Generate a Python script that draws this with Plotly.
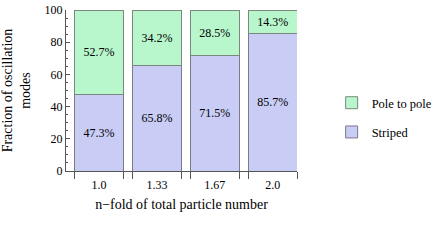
import plotly.graph_objects as go

categories = ["1.0", "1.33", "1.67", "2.0"]
striped = [47.3, 65.8, 71.5, 85.7]
pole_to_pole = [52.7, 34.2, 28.5, 14.3]
y_ticks = [0, 20, 40, 60, 80, 100]

xpos = list(range(len(categories)))
bw = 0.84
edges = []
for p in xpos:
    edges += [p - bw / 2, p + bw / 2]

FONT = "Liberation Serif"
xr = [-0.57, 3.42]

fig = go.Figure()
fig.add_trace(go.Bar(
    x=xpos, y=striped, name="Striped", width=bw,
    marker=dict(color="#c9cdf6", line=dict(color="#7a7a88", width=1)),
    text=[f"{v}%" for v in striped], textposition="inside",
    insidetextanchor="middle", textangle=0,
    textfont=dict(family=FONT, size=12, color="#000"),
    legendgroup="a", legendrank=2,
))
fig.add_trace(go.Bar(
    x=xpos, y=pole_to_pole, name="Pole to pole", width=bw,
    marker=dict(color="#b8f7cc", line=dict(color="#7a887e", width=1)),
    text=[f"{v}%" for v in pole_to_pole], textposition="inside",
    insidetextanchor="middle", textangle=0,
    textfont=dict(family=FONT, size=12, color="#000"),
    legendgroup="b", legendrank=1,
))
# invisible trace to host tick-mark axis at bar edges
fig.add_trace(go.Scatter(x=edges, y=[0] * len(edges), xaxis="x2", mode="markers",
                         marker=dict(opacity=0), showlegend=False, hoverinfo="skip"))

fig.update_layout(
    width=448, height=244,
    margin=dict(l=66, r=116, t=10, b=73),
    barmode="stack",
    paper_bgcolor="white", plot_bgcolor="white",
    font=dict(family=FONT, size=12, color="#000"),
    showlegend=True,
    legend=dict(x=1.15, y=0.515, xanchor="left", yanchor="top",
                traceorder="grouped", tracegroupgap=10,
                borderwidth=0, bgcolor="rgba(0,0,0,0)",
                font=dict(family=FONT, size=12.5), itemwidth=30),
    xaxis=dict(range=xr, tickvals=xpos, ticktext=categories, ticks="",
               showline=True, linecolor="#555", linewidth=1, showgrid=False,
               zeroline=False, tickfont=dict(size=12), ticklabelstandoff=3,
               automargin=False,
               title=dict(text="n\u2212fold of total particle number",
                          font=dict(size=14), standoff=7)),
    xaxis2=dict(range=xr, overlaying="x", anchor="y", side="bottom",
                tickvals=edges, ticks="outside", ticklen=7, tickcolor="#555",
                showticklabels=False, showgrid=False, zeroline=False,
                showline=False, automargin=False),
    yaxis=dict(range=[0, 100], tickvals=y_ticks, ticks="inside", ticklen=4,
               tickcolor="#555", showline=True, linecolor="#555", linewidth=1,
               showgrid=False, zeroline=False, tickfont=dict(size=12),
               automargin=False,
               minor=dict(dtick=5, ticks="inside", ticklen=2, tickcolor="#555"),
               title=dict(text="Fraction of oscillation<br>modes",
                          font=dict(size=14), standoff=14)),
)

fig.write_html("out.html", config={"displayModeBar": False},
               post_script="document.body.style.margin='0';")
